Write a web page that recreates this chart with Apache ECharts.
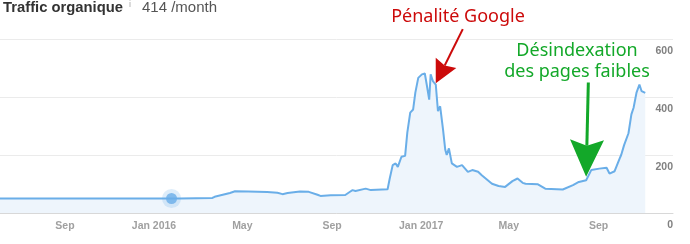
<!DOCTYPE html>
<html><head><meta charset="utf-8">
<script src="https://cdn.jsdelivr.net/npm/echarts@6/dist/echarts.min.js"></script>
<style>html,body{margin:0;padding:0;background:#fff}#c{width:690px;height:244px}</style>
</head><body><div id="c"></div>
<script>
// ---- data ----
const dates = [
  '2015-06-04','2016-01-25','2016-02-05','2016-03-21','2016-03-24','2016-04-14','2016-04-21','2016-05-09',
  '2016-06-04','2016-06-18','2016-06-25','2016-07-02','2016-07-19','2016-07-31','2016-08-12','2016-08-16',
  '2016-08-30','2016-09-19','2016-09-26','2016-09-29','2016-10-03','2016-10-17','2016-10-24','2016-11-16',
  '2016-11-19','2016-11-23','2016-11-27','2016-11-30','2016-12-05','2016-12-10','2016-12-13','2016-12-17',
  '2016-12-21','2016-12-24','2016-12-28','2017-01-02','2017-01-06','2017-01-09','2017-01-12','2017-01-14',
  '2017-01-17','2017-01-21','2017-01-24','2017-01-27','2017-01-31','2017-02-03','2017-02-05','2017-02-08',
  '2017-02-12','2017-02-19','2017-02-26','2017-03-06','2017-03-12','2017-03-20','2017-03-25','2017-04-08',
  '2017-04-17','2017-04-26','2017-05-06','2017-05-13','2017-05-20','2017-05-24','2017-06-10','2017-06-20',
  '2017-07-14','2017-07-28','2017-08-05','2017-08-15','2017-08-22','2017-09-02','2017-09-12','2017-09-16',
  '2017-09-23','2017-09-30','2017-10-02','2017-10-06','2017-10-12','2017-10-16','2017-10-19','2017-10-23',
  '2017-10-27','2017-10-30','2017-11-04'
];
const traffic = [
  50,50,50,52,56,69,75,74,
  72,70,65,69,74,73,63,59,
  61,62,74,79,76,84,79,82,
  120,165,171,159,194,197,277,346,
  357,415,466,478,481,437,391,478,
  455,443,351,368,287,218,200,223,
  171,159,165,142,148,142,130,101,
  93,90,110,119,104,101,99,84,
  81,96,107,113,148,153,156,136,
  144,188,200,234,275,340,363,415,
  443,420,414
];
const axisStart = '2015-06-04';
const axisEnd = '2017-12-12';
const tickDates = ['2015-09-01','2016-01-01','2016-05-01','2016-09-01','2017-01-01','2017-05-01','2017-09-01'];
const tickLabels = ['Sep','Jan 2016','May','Sep','Jan 2017','May','Sep'];
const yMin = 0, yMax = 600, yStep = 200;
const highlightDate = '2016-01-25';
const penaltyArrow = [['2017-02-27', 634], ['2017-01-21', 447]];   // tail, tip
const deindexArrow = [['2017-08-18', 450], ['2017-08-15', 125]];  // tail, tip

// ---- chart ----
function ts(s){ const p = s.split('-').map(Number); return Date.UTC(p[0], p[1]-1, p[2]); }
const tickTs = tickDates.map(ts);
const seriesData = dates.map((d,i)=>[ts(d), traffic[i]]);
const hiIdx = dates.indexOf(highlightDate);
const hiPoint = [[ts(highlightDate), traffic[hiIdx]]];

const chart = echarts.init(document.getElementById('c'), null, {renderer:'canvas'});
const FONT = '"Liberation Sans", Arial, sans-serif';
const option = {
  animation: false,
  grid: {left: 0, right: 17, top: 39, bottom: 31, containLabel: false},
  xAxis: {
    type: 'value', min: ts(axisStart), max: ts(axisEnd), scale: true,
    axisLine: {show: true, lineStyle: {color: '#d8d8d8', width: 1}},
    axisTick: {show: true, inside: true, length: 6, customValues: tickTs, lineStyle: {color: '#c8c8c8'}},
    axisLabel: {
      customValues: tickTs, color: '#a0a0a0', fontSize: 10.5, fontWeight: 'bold', fontFamily: FONT, margin: 8,
      formatter: function(v){
        let best = 0, bd = Infinity;
        tickTs.forEach((t,i)=>{ const d = Math.abs(t - v); if (d < bd){ bd = d; best = i; } });
        return tickLabels[best];
      }
    },
    splitLine: {show: false}
  },
  yAxis: {
    type: 'value', position: 'right', min: yMin, max: yMax, interval: yStep,
    axisLine: {show: false}, axisTick: {show: false},
    axisLabel: {inside: true, margin: 0, color: '#808080', fontSize: 10.5, fontWeight: 'bold', fontFamily: FONT,
                verticalAlign: 'top', padding: [7, 0, 0, 0]},
    splitLine: {lineStyle: {color: '#ebebeb', width: 1}}
  },
  series: [
    {
      type: 'line', data: seriesData, showSymbol: false, symbol: 'none',
      lineStyle: {color: '#6aaee8', width: 2},
      itemStyle: {color: '#6aaee8'},
      areaStyle: {color: '#eef5fc', opacity: 1},
      z: 2
    },
    {
      type: 'scatter', data: hiPoint, symbolSize: 19,
      itemStyle: {color: 'rgba(106,174,232,0.28)'}, z: 3, silent: true
    },
    {
      type: 'scatter', data: hiPoint, symbolSize: 11,
      itemStyle: {color: '#6aaee8'}, z: 4, silent: true
    }
  ]
};
chart.setOption(option);

function arrow(spec, color, lw, headLen, headW, notch){
  const p0 = chart.convertToPixel({seriesIndex: 0}, [ts(spec[0][0]), spec[0][1]]);
  const p1 = chart.convertToPixel({seriesIndex: 0}, [ts(spec[1][0]), spec[1][1]]);
  const dx = p1[0]-p0[0], dy = p1[1]-p0[1], L = Math.hypot(dx, dy);
  const ux = dx/L, uy = dy/L, nx = -uy, ny = ux;
  const bx = p1[0]-ux*headLen, by = p1[1]-uy*headLen;
  const mx = bx+ux*notch, my = by+uy*notch;
  return [
    {type: 'line', z: 10, shape: {x1: p0[0], y1: p0[1], x2: mx, y2: my},
     style: {stroke: color, lineWidth: lw}},
    {type: 'polygon', z: 10, shape: {points: [
      [p1[0], p1[1]], [bx+nx*headW/2, by+ny*headW/2], [mx, my], [bx-nx*headW/2, by-ny*headW/2]]},
     style: {fill: color}}
  ];
}

const RED = '#cc0a0a', GREEN = '#13a829';
const ANN_FONT = '"Noto Sans", "DejaVu Sans", sans-serif';
chart.setOption({
  graphic: [
    {type: 'text', left: 3, top: 0, z: 10, style: {text: 'Traffic organique', fill: '#333', font: 'bold 14.8px ' + FONT}},
    {type: 'text', left: 129, top: 0, z: 10, style: {text: 'i', fill: '#aaa', font: '9px ' + FONT}},
    {type: 'text', left: 142, top: 0, z: 10, style: {text: '414 /month', fill: '#555', font: '15px ' + FONT}},
    {type: 'text', x: 458, y: 16.5, z: 10, style: {text: 'Pénalité Google', fill: RED, font: '18px ' + ANN_FONT, align: 'center', verticalAlign: 'middle'}},
    {type: 'text', x: 577, y: 51, z: 10, style: {text: 'Désindexation', fill: GREEN, font: '18px ' + ANN_FONT, align: 'center', verticalAlign: 'middle'}},
    {type: 'text', x: 577, y: 71.5, z: 10, style: {text: 'des pages faibles', fill: GREEN, font: '18px ' + ANN_FONT, align: 'center', verticalAlign: 'middle'}}
  ].concat(arrow(penaltyArrow, RED, 2, 23, 23, 3))
   .concat(arrow(deindexArrow, GREEN, 3, 37, 34, 6))
});
</script>
</body></html>
